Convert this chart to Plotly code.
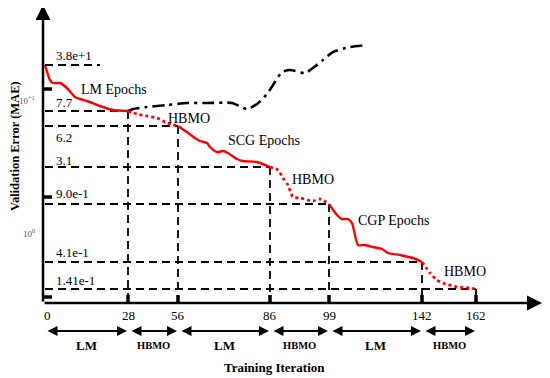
import plotly.graph_objects as go

# ---------------- data (schematic units: x along iteration axis, y = error level height) -------------
iter_labels = ["0", "28", "56", "86", "99", "142", "162"]
iter_pos = [1, 85, 135, 227, 286, 379, 433]
segment_labels = ["LM", "HBMO", "LM", "HBMO", "LM", "HBMO"]

level_labels = ["3.8e+1", "7.7", "6.2", "3.1", "9.0e-1", "4.1e-1", "1.41e-1"]
level_y = [238, 192, 177, 136, 99, 41, 14]
level_end = [57, 85, 135, 227, 286, 379, 433]

lm1_x = [2, 7, 10, 17, 24, 32, 37, 44, 57, 70, 85]
lm1_y = [238, 223, 220, 220, 215, 206, 204, 202, 197, 193, 192]
hb1_x = [85, 94, 104, 114, 124, 135]
hb1_y = [192, 189, 187, 185, 180, 177]
scg_x = [135, 144, 152, 157, 164, 167, 174, 180, 185, 194, 200, 214, 227]
scg_y = [177, 171, 165, 162, 160, 156, 151, 152, 150, 144, 142, 141, 136]
hb2_x = [227, 235, 240, 245, 250, 257, 270, 277, 286]
hb2_y = [136, 133, 125, 118, 106, 105, 102, 104, 99]
cgp_x = [286, 294, 299, 305, 309, 315, 322, 330, 339, 345, 357, 370, 379]
cgp_y = [99, 88, 84, 84, 80, 58, 58, 56, 54, 50, 48, 45, 41]
hb3_x = [379, 387, 394, 400, 414, 427, 433]
hb3_y = [41, 30, 23, 20, 16, 15, 14]
lm_only_x = [85, 90, 104, 124, 144, 164, 189, 204, 214, 224, 232, 239, 247, 262, 270, 280, 290, 307, 324]
lm_only_y = [192, 194, 196, 198, 200, 200, 200, 194, 199, 209, 221, 231, 233, 230, 235, 243, 251, 256, 258]

phase_names = ["LM Epochs", "HBMO", "SCG Epochs", "HBMO", "CGP Epochs", "HBMO"]
phase_tx = [71, 146, 221, 270, 350, 422]
phase_ty = [214, 185, 163, 124, 83, 32]

# ---------------- figure ----------------
FONT = "Liberation Serif"
RED = "#ff0000"
fig = go.Figure()

def add_line(x, y, color, width, dash):
    fig.add_trace(go.Scatter(x=x, y=y, mode="lines",
                             line=dict(color=color, width=width, dash=dash, shape="spline", smoothing=0.6),
                             hoverinfo="skip", showlegend=False, cliponaxis=False))

add_line(lm_only_x, lm_only_y, "black", 2.6, "12px,5px,3px,5px")
add_line(lm1_x, lm1_y, RED, 2.4, "solid")
add_line(hb1_x, hb1_y, RED, 2.8, "dot")
add_line(scg_x, scg_y, RED, 2.4, "solid")
add_line(hb2_x, hb2_y, RED, 2.8, "dot")
add_line(cgp_x, cgp_y, RED, 2.4, "solid")
add_line(hb3_x, hb3_y, RED, 2.8, "dot")

shapes = []
dashed = dict(color="black", width=1.8, dash="8px,5px")
for ly, le in zip(level_y, level_end):
    shapes.append(dict(type="line", x0=2, x1=le, y0=ly, y1=ly, line=dashed, layer="below"))
for ly, le in zip(level_y[1:], level_end[1:]):
    shapes.append(dict(type="line", x0=le, x1=le, y0=ly, y1=0, line=dashed, layer="below"))
# thick ticks on x axis
for p in iter_pos[1:]:
    shapes.append(dict(type="line", x0=p, x1=p, y0=0, y1=8, line=dict(color="black", width=3.5)))
# thick ticks on y axis
for ty in [214, 106, 6]:
    shapes.append(dict(type="line", x0=0, x1=9, y0=ty, y1=ty, line=dict(color="black", width=3.5)))

ann = []
# axes with arrowheads
ann.append(dict(x=499, y=0, ax=0, ay=0, xref="x", yref="y", axref="x", ayref="y", text="",
                showarrow=True, arrowhead=2, arrowsize=1.2, arrowwidth=2.5, arrowcolor="black"))
ann.append(dict(x=0, y=298, ax=0, ay=0, xref="x", yref="y", axref="x", ayref="y", text="",
                showarrow=True, arrowhead=2, arrowsize=1.2, arrowwidth=2.5, arrowcolor="black"))

tfont = dict(family=FONT, size=13, color="black")
for lab, p in zip(iter_labels, iter_pos):
    ann.append(dict(x=p + (3 if lab == "0" else 0), y=-12, text=lab, showarrow=False, font=tfont,
                    xref="x", yref="y"))

# double arrows and segment labels
for i, lab in enumerate(segment_labels):
    a, b = iter_pos[i], iter_pos[i + 1]
    ann.append(dict(x=b - 1, y=-28, ax=a + 2, ay=-28, xref="x", yref="y", axref="x", ayref="y", text="",
                    showarrow=True, arrowhead=2, startarrowhead=2, arrowside="end+start",
                    arrowsize=1, startarrowsize=1, arrowwidth=2, arrowcolor="black"))
    ann.append(dict(x=(a + b) / 2, y=-42, text="<b>%s</b>" % lab, showarrow=False, xref="x", yref="y",
                    font=dict(family=FONT, size=13 if lab == "LM" else 10.5, color="black")))

ann.append(dict(x=231, y=-64, text="<b>Training Iteration</b>", showarrow=False, xref="x", yref="y",
                font=dict(family=FONT, size=13, color="black")))
ann.append(dict(x=-28, y=157, text="<b>Validation Error (MAE)</b>", textangle=-90, showarrow=False,
                xref="x", yref="y", font=dict(family=FONT, size=12.5, color="black")))

# exponent labels of y axis
for txt, yy in [("10<sup>+1</sup>", 203), ("10<sup>0</sup>", 70)]:
    ann.append(dict(x=-6, y=yy, text=txt, showarrow=False, xref="x", yref="y", xanchor="right",
                    font=dict(family=FONT, size=9, color="#555555")))

# level labels
offsets = [10, 9, -11, 7, 11, 10, 9]
for lab, ly, off in zip(level_labels, level_y, offsets):
    ann.append(dict(x=11, y=ly + off, text=lab, showarrow=False, xanchor="left", xref="x", yref="y",
                    font=dict(family=FONT, size=13, color="black")))

for name, tx, ty in zip(phase_names, phase_tx, phase_ty):
    ann.append(dict(x=tx, y=ty, text=name, showarrow=False, xref="x", yref="y",
                    font=dict(family=FONT, size=14, color="black")))

# the page body adds an 8px offset; ranges compensate for it
fig.update_layout(
    width=550, height=378,
    margin=dict(l=0, r=0, t=0, b=0),
    paper_bgcolor="white", plot_bgcolor="white",
    xaxis=dict(range=[-35, 515], visible=False, fixedrange=True),
    yaxis=dict(range=[-83, 295], visible=False, fixedrange=True),
    shapes=shapes, annotations=ann, showlegend=False,
)

fig.write_html("out.html")
